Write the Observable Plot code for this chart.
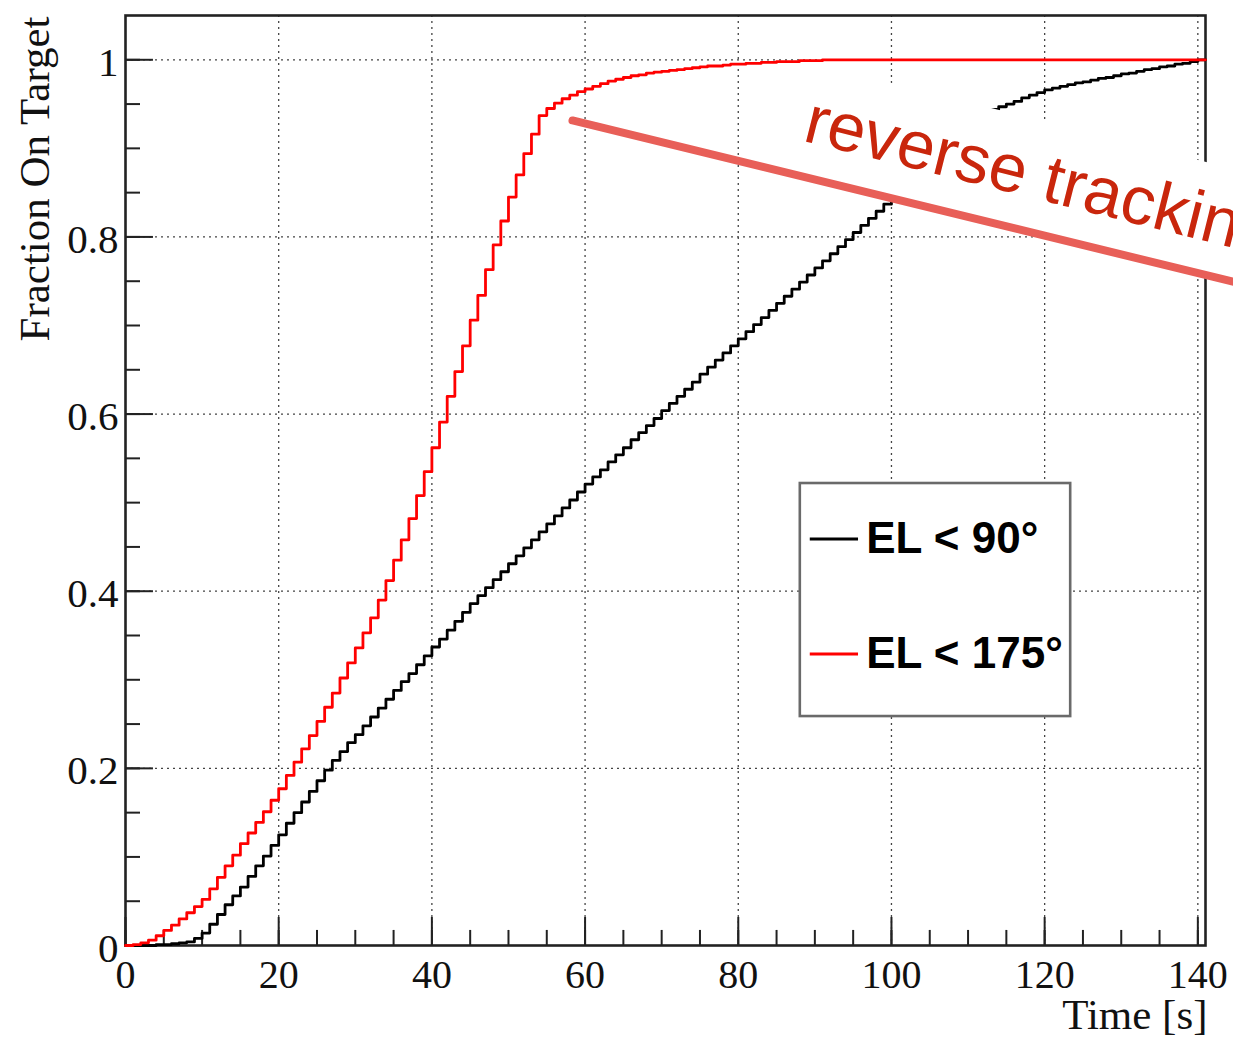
<!DOCTYPE html>
<html><head><meta charset="utf-8">
<script src="https://cdn.jsdelivr.net/npm/d3@7"></script>
<script src="https://cdn.jsdelivr.net/npm/@observablehq/plot@0.6"></script>
<style>html,body{margin:0;padding:0;background:#fff;overflow:hidden}#chart{width:1233px;height:1038px}</style>
</head><body><div id="chart"></div>
<script>
// ---- data (cumulative fraction on target, 1 s bins, t = 0..141) ----
const seriesNames = ["EL < 90°", "EL < 175°"];
const seriesColors = ["#000000", "#ff0000"];
const el90 = [
  0, 0, 0, 0, 0.001, 0.001, 0.002, 0.003, 0.004, 0.008,
  0.014, 0.024, 0.035, 0.046, 0.056, 0.066, 0.078, 0.090, 0.101, 0.113,
  0.125, 0.138, 0.150, 0.162, 0.174, 0.186, 0.198, 0.209, 0.219, 0.229,
  0.238, 0.248, 0.258, 0.268, 0.278, 0.288, 0.298, 0.307, 0.317, 0.327,
  0.337, 0.346, 0.356, 0.366, 0.376, 0.386, 0.395, 0.404, 0.413, 0.422,
  0.431, 0.440, 0.449, 0.458, 0.467, 0.476, 0.485, 0.494, 0.503, 0.512,
  0.521, 0.529, 0.537, 0.546, 0.554, 0.562, 0.571, 0.579, 0.587, 0.595,
  0.604, 0.612, 0.620, 0.628, 0.636, 0.645, 0.653, 0.661, 0.669, 0.677,
  0.685, 0.693, 0.701, 0.709, 0.717, 0.725, 0.733, 0.741, 0.749, 0.757,
  0.765, 0.773, 0.781, 0.789, 0.797, 0.805, 0.813, 0.821, 0.829, 0.837,
  0.845, 0.853, 0.861, 0.869, 0.877, 0.885, 0.893, 0.901, 0.909, 0.917,
  0.924, 0.931, 0.938, 0.944, 0.947, 0.950, 0.953, 0.957, 0.960, 0.963,
  0.966, 0.968, 0.970, 0.972, 0.974, 0.975, 0.977, 0.979, 0.980, 0.982,
  0.984, 0.985, 0.987, 0.989, 0.990, 0.992, 0.993, 0.995, 0.996, 0.998,
  1.000, 1.000
];
const el175 = [
  0, 0.001, 0.003, 0.006, 0.011, 0.017, 0.023, 0.030, 0.037, 0.044,
  0.052, 0.064, 0.077, 0.090, 0.102, 0.115, 0.127, 0.139, 0.151, 0.164,
  0.177, 0.192, 0.207, 0.222, 0.237, 0.253, 0.269, 0.285, 0.302, 0.319,
  0.336, 0.353, 0.370, 0.390, 0.412, 0.435, 0.458, 0.482, 0.508, 0.535,
  0.562, 0.591, 0.620, 0.648, 0.677, 0.706, 0.734, 0.763, 0.791, 0.818,
  0.845, 0.870, 0.894, 0.916, 0.937, 0.945, 0.951, 0.956, 0.960, 0.964,
  0.967, 0.970, 0.973, 0.976, 0.978, 0.980, 0.982, 0.983, 0.985, 0.986,
  0.987, 0.988, 0.989, 0.990, 0.991, 0.992, 0.993, 0.993, 0.994, 0.995,
  0.995, 0.996, 0.996, 0.997, 0.997, 0.998, 0.998, 0.998, 0.999, 0.999,
  0.999, 1, 1, 1, 1, 1, 1, 1, 1, 1,
  1, 1, 1, 1, 1, 1, 1, 1, 1, 1,
  1, 1, 1, 1, 1, 1, 1, 1, 1, 1,
  1, 1, 1, 1, 1, 1, 1, 1, 1, 1,
  1, 1, 1, 1, 1, 1, 1, 1, 1, 1,
  1, 1
];
const xTicks = [0, 20, 40, 60, 80, 100, 120, 140];
const yTicks = [0, 0.2, 0.4, 0.6, 0.8, 1];
const xLabel = "Time [s]";
const yLabel = "Fraction On Target";
const annotationText = "reverse tracking";

// ---- build tables ----
const times = d3.range(el90.length);
const black = times.map(t => ({t, v: el90[t]}));
const red = times.map(t => ({t, v: el175[t]}));
const xMinor = d3.range(0, 141, 5);
const yMinor = d3.range(0, 21).map(i => i * 0.05);

// annotation overlay (data coordinates)
const annotLine = [{t: 58.36, v: 0.9315}, {t: 146, v: 0.7465}];
const annotBox = [{t: 88, bottom: 0.869, top: 0.9995}, {t: 146, bottom: 0.7465, top: 0.8736}];
// legend (data coordinates)
const legendRows = seriesNames.map((n, i) => ({n, c: seriesColors[i], y: 0.459 - i * 0.13}));

const serif = "Liberation Serif, Times New Roman, serif";
const sans = "Liberation Sans, Arial, sans-serif";

const chart = Plot.plot({
  width: 1233, height: 1038,
  marginLeft: 125, marginRight: 28, marginTop: 15, marginBottom: 93,
  x: {domain: [0, 141]},
  y: {domain: [0, 1.05]},
  style: {background: "#fff", color: "#111"},
  marks: [
    Plot.ruleX(xTicks.filter(d => d > 0), {stroke: "#444", strokeWidth: 1.3, strokeDasharray: "2,4"}),
    Plot.ruleY(yTicks.filter(d => d > 0), {stroke: "#444", strokeWidth: 1.3, strokeDasharray: "2,4"}),
    Plot.ruleX(xMinor, {x: d => d, y1: 0, y2: 0.017, stroke: "#222", strokeWidth: 2}),
    Plot.ruleX(xTicks, {x: d => d, y1: 0, y2: 0.0316, stroke: "#222", strokeWidth: 2}),
    Plot.ruleY(yMinor, {y: d => d, x1: 0, x2: 1.96, stroke: "#222", strokeWidth: 2}),
    Plot.ruleY(yTicks, {y: d => d, x1: 0, x2: 3.65, stroke: "#222", strokeWidth: 2}),
    Plot.frame({stroke: "#222", strokeWidth: 2.6}),
    Plot.axisX({ticks: xTicks, tickSize: 0, tickPadding: 14, fontSize: 40, fontFamily: serif, label: null, tickFormat: d => String(d)}),
    Plot.axisY({ticks: yTicks, tickSize: 0, tickPadding: 7, fontSize: 41, fontFamily: serif, label: null, dy: 3, tickFormat: d => String(d)}),
    Plot.text([xLabel], {text: d => d, frameAnchor: "bottom-right", dx: 2, dy: 83, textAnchor: "end", lineAnchor: "bottom", fontSize: 43, fontFamily: serif, fill: "#111"}),
    Plot.text([yLabel], {text: d => d, frameAnchor: "top-left", dx: -77, dy: 1, rotate: -90, textAnchor: "end", lineAnchor: "bottom", fontSize: 43, fontFamily: serif, fill: "#111"}),
    // legend
    Plot.rect([0], {x1: 88.1, x2: 123.4, y1: 0.2585, y2: 0.5216, fill: "#fff", stroke: "#6a6a6a", strokeWidth: 2.6}),
    Plot.ruleY(legendRows, {y: "y", x1: 89.4, x2: 95.7, stroke: "c", strokeWidth: 3}),
    Plot.text(legendRows, {x: 96.7, y: "y", text: "n", textAnchor: "start", fontSize: 44, fontWeight: "bold", fontFamily: sans, fill: "#000"}),
    // curves
    Plot.line(black, {x: "t", y: "v", curve: "step-after", stroke: seriesColors[0], strokeWidth: 2.8}),
    Plot.areaY(annotBox, {x: "t", y1: "bottom", y2: "top", fill: "#fff"}),
    Plot.line(red, {x: "t", y: "v", curve: "step-after", stroke: seriesColors[1], strokeWidth: 2.8}),
    // annotation
    Plot.line(annotLine, {x: "t", y: "v", stroke: "#e85f58", strokeWidth: 8}),
    Plot.text([annotationText], {text: d => d, x: 88.25, y: 0.909, rotate: 14, textAnchor: "start", lineAnchor: "bottom", fontSize: 68, fontFamily: sans, fill: "#c9260c"})
  ]
});
document.getElementById("chart").appendChild(chart);
</script>
</body></html>
